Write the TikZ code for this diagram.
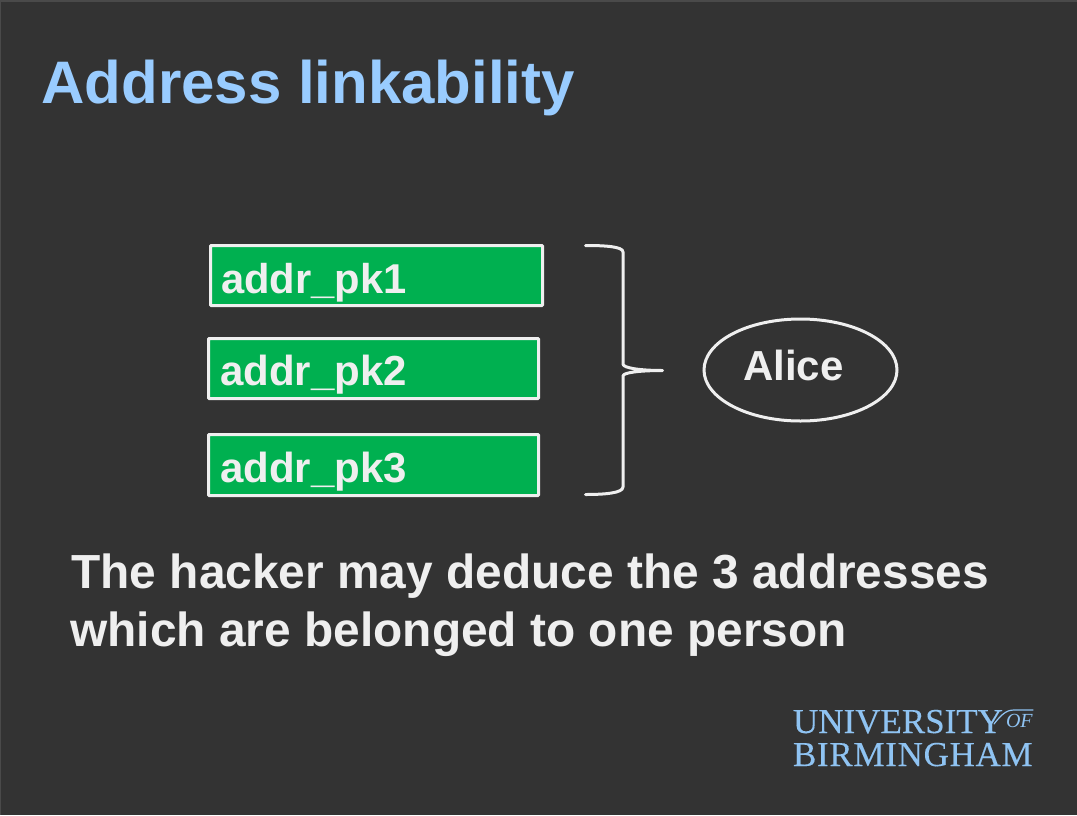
\documentclass[tikz,border=0pt]{standalone}
\usepackage{fontspec}
\setmainfont{Liberation Sans}
\newfontfamily\logofont[FakeBold=0.25]{Liberation Serif}
\newfontfamily\logofontwide[LetterSpace=2,FakeBold=0.25]{Liberation Serif}
\newfontfamily\logoital{Liberation Serif Italic}
\usetikzlibrary{shapes.geometric}
\definecolor{slidebg}{HTML}{333333}
\definecolor{slideedge}{HTML}{4A4A4A}
\definecolor{titleblue}{HTML}{99CCFF}
\definecolor{boxgreen}{HTML}{00B050}
\definecolor{offwhite}{HTML}{EFEFEF}
\definecolor{logoblue}{HTML}{8FC3F2}
\tikzset{
  txt/.style={anchor=base west,inner sep=0pt,outer sep=0pt,text=offwhite,font=\bfseries\fontsize{#1}{#1}\selectfont},
  addrbox/.style={draw=offwhite,line width=3pt,fill=boxgreen,rectangle,rounded corners=0.8pt,inner sep=0pt,outer sep=0pt},
  personshape/.style={draw=offwhite,line width=3pt,ellipse,inner sep=0pt,outer sep=0pt,minimum width=193pt,minimum height=102pt},
  bracket/.style={draw=offwhite,line width=3pt,line cap=round,line join=round},
  logotxt/.style={anchor=base west,inner sep=0pt,outer sep=0pt,text=logoblue}
}
\begin{document}
\begin{tikzpicture}[x=1pt,y=-1pt]
\useasboundingbox (0,0) rectangle (1077,815);
\fill[slidebg] (0,0) rectangle (1077,815);
\fill[slideedge] (0,0) rectangle (1077,2);
\fill[slideedge] (0,0) rectangle (1,815);
\node[txt=60,text=titleblue] (title) at (41.5,103) {Address linkability};

\node[addrbox,minimum width=332pt,minimum height=60pt] (box1) at (376.5,275.5) {};
\node[addrbox,minimum width=330pt,minimum height=60pt] (box2) at (373.5,368.5) {};
\node[addrbox,minimum width=330pt,minimum height=61pt] (box3) at (373.5,465) {};
\node[txt=41.7] (t1) at (221,293) {addr\_pk1};
\node[txt=42] (t2) at (220,385) {addr\_pk2};
\node[txt=42] (t3) at (220,482) {addr\_pk3};

\coordinate (bracetop) at (585.5,245.5);
\coordinate (bracetip) at (662.5,370.5);
\coordinate (bracebot) at (585.5,494.5);
\draw[bracket] (bracetop) .. controls (605,245.5) and (623,246.5) .. (623,252)
  -- (623,364) .. controls (623,368) and (640,370.5) .. (bracetip)
  .. controls (640,370.5) and (623,372.5) .. (623,376)
  -- (623,487) .. controls (623,493) and (605,494.5) .. (bracebot);

\node[personshape] (alice) at (800.5,370) {};
\node[txt=42] (alicetxt) at (743,380) {Alice};

\node[txt=47.85] (line1) at (71.5,588) {The hacker may deduce the 3 addresses};
\node[txt=47.85] (line2) at (70.5,646) {which are belonged to one person};

\node[logotxt,font=\logofont\fontsize{35}{35}\selectfont] (logo1) at (793,733) {UNIVERSITY};
\node[logotxt,font=\logofontwide\fontsize{35}{35}\selectfont] (logo2) at (793,766) {BIRMINGHAM};
\node[logotxt,font=\logoital\fontsize{20}{20}\selectfont] (logo3) at (1006,727) {OF};
\coordinate (swashstart) at (994,724);
\coordinate (swashend) at (1033,710);
\draw[logoblue,line width=1.2pt,line cap=round] (swashstart) .. controls (1001,715) and (1006,710) .. (1014,710) -- (swashend);
\end{tikzpicture}
\end{document}
